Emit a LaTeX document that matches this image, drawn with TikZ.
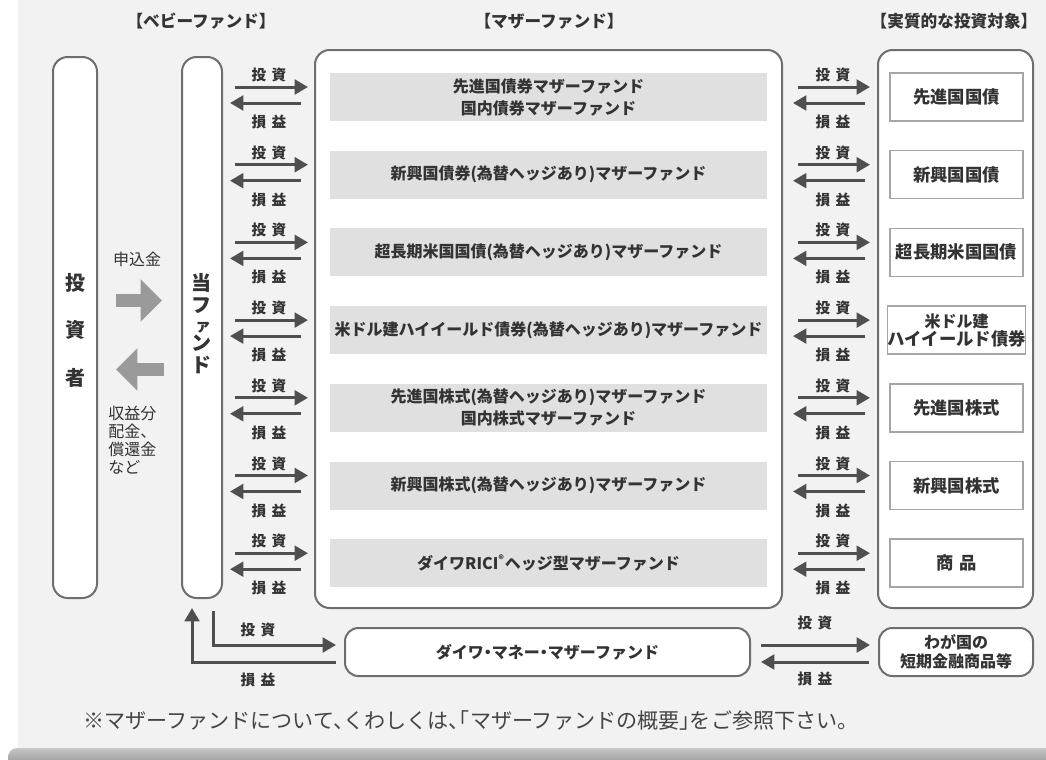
\documentclass[tikz,border=0pt]{standalone}
\usepackage{fontspec}
\setmainfont{Noto Sans CJK JP}
\newfontfamily\notefont[RawFeature=+halt]{Noto Sans CJK JP}
\usetikzlibrary{arrows.meta,calc}
\definecolor{bgc}{HTML}{F2F2F2}
\definecolor{boxc}{HTML}{6E6E6E}
\definecolor{barc}{HTML}{E0E0E0}
\definecolor{tgtc}{HTML}{A6A6A6}
\definecolor{txtc}{HTML}{333333}
\definecolor{arrc}{HTML}{4F4F4F}
\definecolor{blkc}{HTML}{9A9A9A}
\definecolor{notec}{HTML}{444444}
\newcommand\mkrow[4]{%
 \node[bar] (b#1) at (548.5,#2) {#3};
 \node[tgt] (t#1) at (956.5,#2) {#4};
 \draw[arr] ($(fund.east|-b#1)+(12,-10)$) -- ($(b#1-|mother.west)+(-6,-10)$);
 \draw[arr] ($(b#1-|mother.west)+(-13,6)$) -- ($(fund.east|-b#1)+(7,6)$);
 \node[lbl] at ($(fund.east|-b#1)+(46,-22)$) {投\hspace{4pt}資};
 \node[lbl] at ($(fund.east|-b#1)+(46,25)$) {損\hspace{4pt}益};
 \draw[arr] ($(mother.east|-b#1)+(15,-10)$) -- ($(t#1-|rbox.west)+(-7,-10)$);
 \draw[arr] ($(t#1-|rbox.west)+(-12,6)$) -- ($(mother.east|-b#1)+(10,6)$);
 \node[lbl] at ($(mother.east|-b#1)+(50,-22)$) {投\hspace{4pt}資};
 \node[lbl] at ($(mother.east|-b#1)+(50,25)$) {損\hspace{4pt}益};
}
\begin{document}
\begin{tikzpicture}[x=0.75pt,y=-0.75pt,
 box/.style={draw=boxc, line width=1.5pt, fill=white, rounded corners=11pt, inner sep=0pt},
 bar/.style={fill=barc, minimum width=327.75pt, minimum height=36pt, inner sep=0pt, align=center, font=\bfseries\fontsize{12}{16.5}\selectfont, text=txtc},
 tgt/.style={draw=tgtc, line width=1.1pt, fill=white, minimum width=99.75pt, minimum height=36pt, inner sep=0pt, align=center, font=\bfseries\fontsize{13}{13.5}\selectfont, text=txtc},
 arr/.style={draw=arrc, line width=2.25pt, -{Triangle[length=10pt,width=11pt]}},
 lbl/.style={font=\bfseries\fontsize{11}{12}\selectfont, text=txtc, inner sep=0pt},
 hdr/.style={font=\bfseries\fontsize{12.5}{14}\selectfont, text=txtc, inner sep=0pt},
 blk/.style={draw=blkc, line width=9.75pt, -{Triangle[length=16pt,width=31pt]}},
 side/.style={font=\fontsize{12}{13.5}\selectfont, text=txtc, inner sep=0pt, align=left},
]
% background
\useasboundingbox (0,0) rectangle (1046,760);
\fill[white] (0,0) rectangle (1046,760);
\fill[bgc] (18,0) rectangle (1046,760);
\begin{scope}
 \clip (0,0) rectangle (1046,760);
 \shade[rounded corners=7pt, top color=gray!45, bottom color=gray!85!black] (8,748) rectangle (1070,780);
\end{scope}

% headers
\node[hdr] (h1) at (201,21) {【ベビーファンド】};
\node[hdr] (h2) at (549,21) {【マザーファンド】};
\node[hdr] (h3) at (954,21) {【実質的な投資対象】};

% main boxes
\node[box, minimum width=33pt, minimum height=405.75pt] (inv) at (75,327.5) {};
\node[box, minimum width=30pt, minimum height=405.75pt] (fund) at (202,327.5) {};
\node[box, minimum width=350.25pt, minimum height=418.5pt] (mother) at (548.5,329) {};
\node[box, minimum width=116.25pt, minimum height=418.5pt] (rbox) at (955.5,329) {};

\node[font=\bfseries\fontsize{15}{35.6}\selectfont, text=txtc, align=center, inner sep=0pt] (invtxt) at (75,330) {投\\資\\者};
\node[font=\bfseries\fontsize{15}{16.5}\selectfont, text=txtc, align=center, inner sep=0pt] (fundtxt) at (201,324) {当\\フ\\[-2.5pt]{\fontsize{12}{12}\selectfont\hspace*{3pt}ァ}\\[-2.5pt]ン\\[0.5pt]ド};

% rows
\mkrow{1}{97}{先進国債券マザーファンド\\国内債券マザーファンド}{先進国国債}
\mkrow{2}{174.7}{新興国債券(為替ヘッジあり)マザーファンド}{新興国国債}
\mkrow{3}{252.4}{超長期米国国債(為替ヘッジあり)マザーファンド}{超長期米国国債}
\mkrow{4}{330.1}{米ドル建ハイイールド債券(為替ヘッジあり)マザーファンド}{\fontsize{12}{13.5}\selectfont 米ドル建\\ハイイールド債券}
\mkrow{5}{407.8}{先進国株式(為替ヘッジあり)マザーファンド\\国内株式マザーファンド}{先進国株式}
\mkrow{6}{485.5}{新興国株式(為替ヘッジあり)マザーファンド}{新興国株式}
\mkrow{7}{563.2}{ダイワRICI\textsuperscript{®}ヘッジ型マザーファンド}{商\hspace{4pt}品}

% block arrows between investor and fund
\draw[blk] ($(inv.east)+(18,-27)$) -- ($(fund.west)+(-19,-27)$);
\draw[blk] ($(fund.west)+(-17,42)$) -- ($(inv.east)+(18,42)$);
\node[side] (apply) at (137,259) {申込金};
\node[side, anchor=west] (dist) at (108,440) {収益分\\配金、\\償還金\\など};

% bottom row
\node[box, rounded corners=10pt, minimum width=303.75pt, minimum height=36pt, font=\notefont\bfseries\fontsize{12}{14}\selectfont, text=txtc] (daiwa) at (547.5,652) {ダイワ・マネー・マザーファンド};
\node[box, rounded corners=10pt, minimum width=115.5pt, minimum height=36pt, align=center, font=\bfseries\fontsize{12}{14}\selectfont, text=txtc] (waga) at (956,652) {わが国の\\短期金融商品等};

\draw[arr] ($(fund.south)+(11,12)$) |- ($(daiwa.west)+(-8,-7)$);
\draw[arr] ($(daiwa.west)+(-8,10)$) -| ($(fund.south)+(-10,9)$);
\node[lbl] at (258,630) {投\hspace{4pt}資};
\node[lbl] at (258,680) {損\hspace{4pt}益};

\draw[arr] ($(daiwa.east)+(10,-7)$) -- ($(waga.west)+(-8,-7)$);
\draw[arr] ($(waga.west)+(-9,10)$) -- ($(daiwa.east)+(10,10)$);
\node[lbl] at (815,623) {投\hspace{4pt}資};
\node[lbl] at (815,679) {損\hspace{4pt}益};

% note
\node[font=\notefont\fontsize{15.8}{17}\selectfont, text=notec, inner sep=0pt, anchor=west] (note) at (83,720) {※マザーファンドについて、くわしくは、「マザーファンドの概要」をご参照下さい。};
\end{tikzpicture}
\end{document}
